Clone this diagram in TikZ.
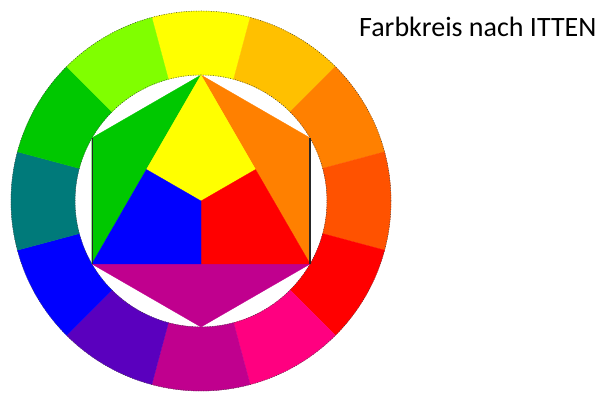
\documentclass[tikz,border=0pt]{standalone}
\usepackage{fontspec}
\setmainfont{Carlito}
\usetikzlibrary{calc}
\definecolor{fkyellow}{HTML}{FFFF00}
\definecolor{fkamber}{HTML}{FFC000}
\definecolor{fkorange}{HTML}{FF8000}
\definecolor{fkvermil}{HTML}{FF5200}
\definecolor{fkred}{HTML}{FF0000}
\definecolor{fkpink}{HTML}{FF0080}
\definecolor{fkmagenta}{HTML}{C0008E}
\definecolor{fkviolet}{HTML}{5A00BE}
\definecolor{fkblue}{HTML}{0000FF}
\definecolor{fkteal}{HTML}{007A7A}
\definecolor{fkgreen}{HTML}{00C800}
\definecolor{fklime}{HTML}{80FF00}

\begin{document}
\begin{tikzpicture}[
  x=1pt, y=1pt,
  patch/.style={fill=#1, draw=#1, line width=0.3pt, line join=round},
  rim/.style={draw=black!75, line width=0.5pt, dash pattern=on 1pt off 1.5pt},
  hexedge/.style={draw=black!85, line width=0.6pt},
  title/.style={anchor=base west, inner sep=0pt, font=\fontsize{28}{33}\selectfont},
]
\useasboundingbox (0,0) rectangle (605,393);

\coordinate (c) at (201,192);

% outer ring, twelve fields
\foreach \a/\col [evaluate=\a as \s using \a-15, evaluate=\a as \e using \a+15] in
  {90/fkyellow, 60/fkamber, 30/fkorange, 0/fkvermil, -30/fkred, -60/fkpink,
   -90/fkmagenta, -120/fkviolet, -150/fkblue, 180/fkteal, 150/fkgreen, 120/fklime}
{
  \path[patch=\col] ($(c)+(\s:190)$) arc[start angle=\s, end angle=\e, radius=190]
    -- ($(c)+(\e:126)$) arc[start angle=\e, end angle=\s, radius=126] -- cycle;
}
\draw[rim] (c) circle[radius=190];
\draw[rim] (c) circle[radius=126];

% hexagon corners
\coordinate (top) at ($(c)+(90:126)$);
\coordinate (ur)  at ($(c)+(30:126)$);
\coordinate (lr)  at ($(c)+(-30:126)$);
\coordinate (bot) at ($(c)+(-90:126)$);
\coordinate (ll)  at ($(c)+(210:126)$);
\coordinate (ul)  at ($(c)+(150:126)$);
\coordinate (ml)  at ($(top)!0.5!(ll)$);
\coordinate (mr)  at ($(top)!0.5!(lr)$);
\coordinate (mb)  at ($(ll)!0.5!(lr)$);

% secondary triangles
\path[patch=fkgreen]   (top) -- (ul) -- (ll) -- cycle;
\path[patch=fkorange]  (top) -- (ur) -- (lr) -- cycle;
\path[patch=fkmagenta] (ll) -- (lr) -- (bot) -- cycle;

% primary triangle
\path[patch=fkyellow] (top) -- (mr) -- (c) -- (ml) -- cycle;
\path[patch=fkred]    (mr) -- (lr) -- (mb) -- (c) -- cycle;
\path[patch=fkblue]   (ml) -- (c) -- (mb) -- (ll) -- cycle;

\draw[hexedge] (ul) -- (ll);
\draw[hexedge, line width=1.4pt] (ur) -- (lr);

\node[title] (caption) at (359,356) {Farbkreis nach ITTEN};
\end{tikzpicture}
\end{document}
